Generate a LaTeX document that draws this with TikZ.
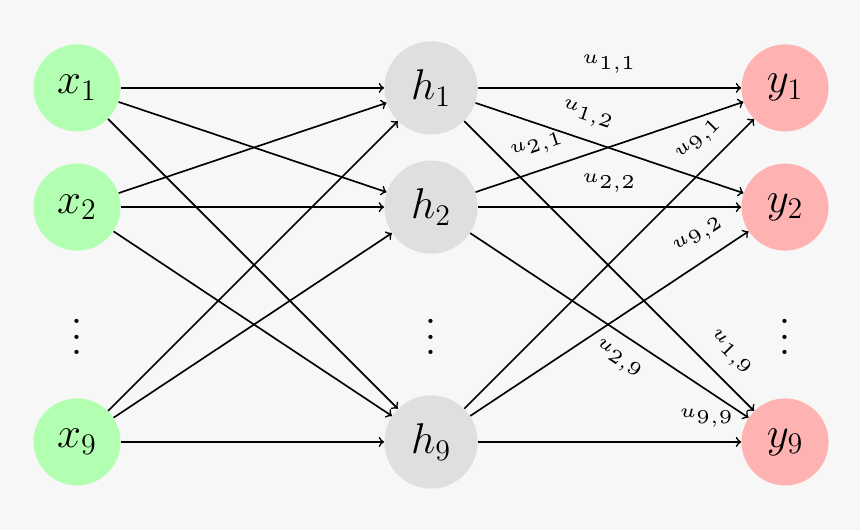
\documentclass[tikz,border=0pt]{standalone}
\usetikzlibrary{arrows}
\definecolor{bgcol}{RGB}{247,247,247}
\newcommand{\colvdots}{\scalebox{1.9}{$\vdots$}}
\begin{document}
\begin{tikzpicture}[
        inunit/.style={circle, inner sep=0pt, minimum size=1.475cm, fill=green!30, font=\huge},
        hidunit/.style={circle, inner sep=0pt, minimum size=1.58cm, fill=gray!25, font=\huge},
        outunit/.style={circle, inner sep=0pt, minimum size=1.475cm, fill=red!30, font=\huge},
        weight/.style={sloped, font=\tiny, scale=1.9},
        conn/.style={thick,->}
    ]
        \fill[bgcol] (-1.305, 1.49) rectangle (13.27, -7.49);

        \node[inunit] (x1) at (0, 0) {$x_1$};
        \node[inunit] (x2) at (0, -2.02) {$x_2$};
        \node (xdots) at (0, -4.02) {\colvdots};
        \node[inunit] (x9) at (0, -6) {$x_9$};

        \node[hidunit] (h1) at (6, 0) {$h_1$};
        \node[hidunit] (h2) at (6, -2.02) {$h_2$};
        \node (hdots) at (6, -4.02) {\colvdots};
        \node[hidunit] (h9) at (6, -6) {$h_9$};

        \node[outunit] (y1) at (12, 0) {$y_1$};
        \node[outunit] (y2) at (12, -2.02) {$y_2$};
        \node (ydots) at (12, -4.02) {\colvdots};
        \node[outunit] (y9) at (12, -6) {$y_9$};

        % input to hidden
        \draw[conn] (x1) -- (h1);
        \draw[conn] (x1) -- (h2);
        \draw[conn] (x1) -- (h9);
        \draw[conn] (x2) -- (h1);
        \draw[conn] (x2) -- (h2);
        \draw[conn] (x2) -- (h9);
        \draw[conn] (x9) -- (h1);
        \draw[conn] (x9) -- (h2);
        \draw[conn] (x9) -- (h9);

        % hidden to output
        \draw[conn] (h1) -- node[weight, above, pos=0.5] {$u_{1,1}$} (y1);
        \draw[conn] (h1) -- node[weight, above, pos=0.39] {$u_{1,2}$} (y2);
        \draw[conn] (h1) -- node[weight, above, pos=0.86] {$u_{1,9}$} (y9);
        \draw[conn] (h2) -- node[weight, above, pos=0.26] {$u_{2,1}$} (y1);
        \draw[conn] (h2) -- node[weight, above, pos=0.5] {$u_{2,2}$} (y2);
        \draw[conn] (h2) -- node[weight, below, pos=0.58] {$u_{2,9}$} (y9);
        \draw[conn] (h9) -- node[weight, above, pos=0.87] {$u_{9,1}$} (y1);
        \draw[conn] (h9) -- node[weight, above, pos=0.87] {$u_{9,2}$} (y2);
        \draw[conn] (h9) -- node[weight, above, pos=0.87] {$u_{9,9}$} (y9);

    \end{tikzpicture}
\end{document}
